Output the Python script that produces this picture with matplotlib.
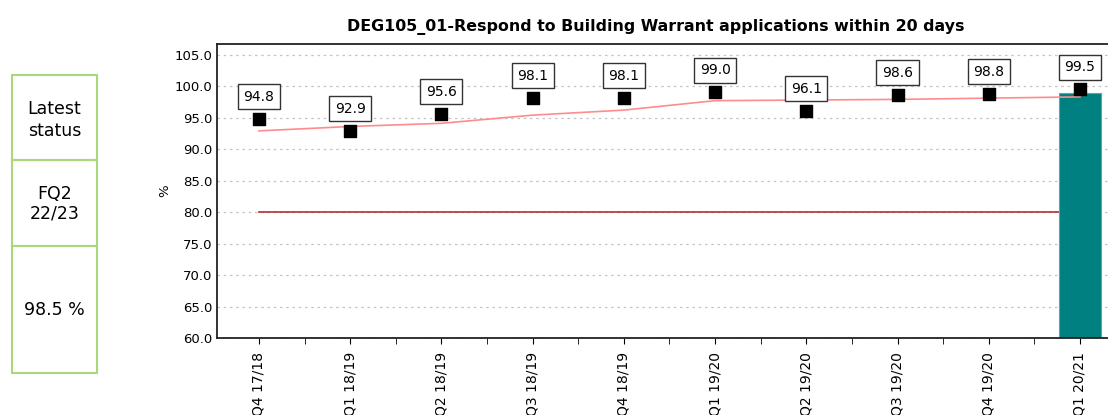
import matplotlib
matplotlib.use("Agg")
import matplotlib.pyplot as plt
import numpy as np

categories = ["FQ4 17/18", "FQ1 18/19", "FQ2 18/19", "FQ3 18/19", "FQ4 18/19",
              "FQ1 19/20", "FQ2 19/20", "FQ3 19/20", "FQ4 19/20", "FQ1 20/21"]
values = [94.8, 92.9, 95.6, 98.1, 98.1, 99.0, 96.1, 98.6, 98.8, 99.5]
trend = [92.9, 93.6, 94.1, 95.4, 96.2, 97.7, 97.8, 97.9, 98.1, 98.3]
target = [80.0] * 10
bar_value = 98.9
status_period = "FQ2\n22/23"
status_value = "98.5 %"
title = "DEG105_01-Respond to Building Warrant applications within 20 days"

fig = plt.figure(figsize=(11.08, 4.15), dpi=100)

# left status panel
pax = fig.add_axes([0, 0, 1, 1])
pax.set_xlim(0, 1108)
pax.set_ylim(415, 0)
pax.axis("off")
green = "#a8d878"
for (y0, y1) in [(75, 160), (160, 246), (246, 373)]:
    pax.add_patch(plt.Rectangle((12, y0), 85, y1 - y0, fill=False, edgecolor=green, lw=1.5))
pax.text(54.5, 120, "Latest\nstatus", ha="center", va="center", fontsize=12.5, linespacing=1.35)
pax.text(54.5, 204, status_period, ha="center", va="center", fontsize=12.5, linespacing=1.1)
pax.text(54.5, 310, status_value, ha="center", va="center", fontsize=12.5)

# main chart
x = np.arange(len(categories))
ax = fig.add_axes([217 / 1108, 1 - 338 / 415, (1125.6 - 217) / 1108, (338 - 44) / 415])
ax.set_xlim(-0.46, 9.5)
ax.set_ylim(60, 106.7)

ax.plot(x, target, color="#b03030", lw=1.2, zorder=1.5)
ax.bar(x[-1], bar_value - 60, bottom=60, width=0.47, color="#008080", edgecolor="#5aa8a8", lw=0.8, zorder=2)
ax.plot(x, trend, color="#ff8c8c", lw=1.2, zorder=3)
ax.scatter(x, values, marker="s", s=75, color="black", zorder=5)
for xi, v in zip(x, values):
    ax.annotate(f"{v:.1f}", (xi, v), xytext=(0, 16), textcoords="offset points",
                ha="center", va="center", fontsize=10,
                bbox=dict(boxstyle="square,pad=0.4", fc="white", ec="#333333", lw=1), zorder=6)

ax.set_yticks(np.arange(60, 106, 5))
ax.set_yticklabels([f"{t:.1f}" for t in np.arange(60, 106, 5)], fontsize=9.5)
ax.yaxis.grid(True, linestyle=(0, (2, 3)), color="#c4c4c4", lw=0.9)
ax.set_axisbelow(True)
ax.set_xticks(x)
ax.set_xticklabels(categories, rotation=90, fontsize=10, va="top")
ax.set_xticks(x[:-1] + 0.5, minor=True)
ax.tick_params(axis="x", which="both", length=4, direction="out", pad=6)
ax.tick_params(axis="y", length=0)
ax.set_ylabel("%", fontsize=9.5, labelpad=2)
for s in ["left", "bottom", "top"]:
    ax.spines[s].set_linewidth(1.3)
    ax.spines[s].set_color("#222222")
ax.spines["right"].set_visible(False)

fig.text(656 / 1108, 1 - 27 / 415, title, ha="center", va="center", fontsize=11.4, fontweight="bold")

fig.savefig("out.png", dpi=100)
